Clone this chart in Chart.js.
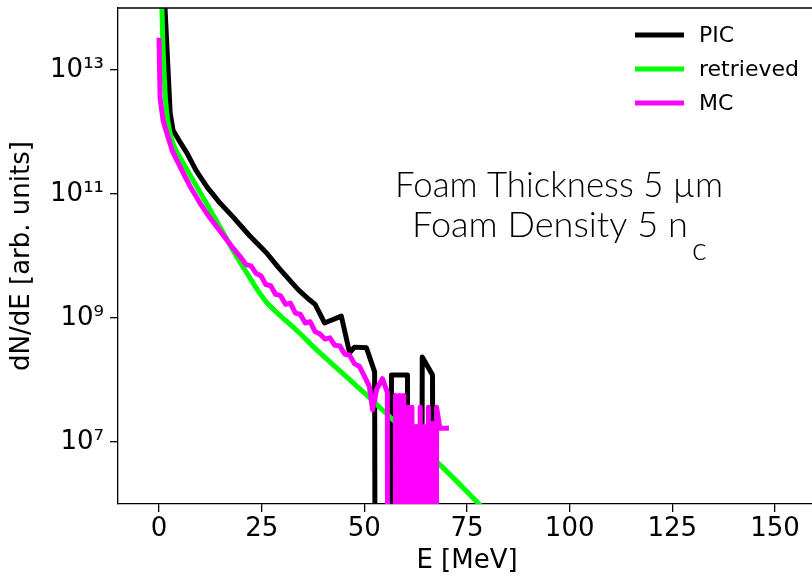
<!DOCTYPE html>
<html><head><meta charset="utf-8">
<script src="https://cdn.jsdelivr.net/npm/chart.js@4.4.1/dist/chart.umd.min.js"></script>
<style>
html,body{margin:0;padding:0;overflow:hidden;background:#fff;width:812px;height:577px}
canvas{display:block}
</style></head><body>
<canvas id="c" width="816" height="577"></canvas>
<script>
// ---- data ----
const xTicks = [0, 25, 50, 75, 100, 125, 150];
const yTicks = [1e7, 1e9, 1e11, 1e13];
const yTickLabels = ['10\u2077', '10\u2079', '10\u00b9\u00b9', '10\u00b9\u00b3'];

const seriesLabels = ['PIC', 'retrieved', 'MC'];

const picE = [1.0,2.7,3.4,5.0,6.8,9.0,11.7,14.5,18.0,22.0,26.2,29.0,31.8,34.0,36.7,38.0,39.1,40.3,44.4,46.4,47.6,50.5,52.5,53.7,55.4,56.6,60.5,61.7,62.9,64.1,66.6,67.8,70.0];
const picN = [3.98e14,2.04e12,1.07e12,7.08e11,4.57e11,2.40e11,1.29e11,7.59e10,4.27e10,2.14e10,1.12e10,6.61e9,4.07e9,2.82e9,1.95e9,1.66e9,1.20e9,8.32e8,1.07e9,2.75e8,3.39e8,3.31e8,1.35e8,0,0,1.20e8,1.20e8,0,0,2.34e8,1.20e8,0,0];

const retE = [0.5,0.9,1.2,1.6,2.2,3.0,4.0,5.5,7.0,9.0,11,13,16,19,22,24,26,28,31,34,38,42,46,50,55,60,65,70,75,80];
const retN = [3.16e14,3.16e13,1.0e13,3.16e12,1.41e12,7.94e11,5.25e11,3.47e11,2.34e11,1.38e11,8.13e10,4.79e10,2.14e10,9.55e9,4.57e9,2.82e9,1.86e9,1.35e9,8.91e8,5.89e8,3.24e8,1.86e8,1.07e8,6.17e7,3.02e7,1.48e7,7.08e6,3.39e6,1.58e6,7.24e5];

const mcE = [0.0,0.25,0.97,1.9,3.2,5.1,7.5,10.0,12.0,14.1,16.0,18.0,20.0,21.2,22.4,23.6,24.8,26.0,27.2,28.4,29.6,30.8,32.0,33.2,34.4,35.6,36.8,38.0,39.2,40.4,41.6,42.8,44.0,45.2,46.4,47.6,48.8,50.0,51.2,52.0,53.0,54.4,55.6,56.3,57.0,57.6,58.1,58.6,59.1,59.6,60.1,60.6,61.1,61.6,62.1,62.6,63.1,63.6,64.1,64.6,65.1,65.6,66.1,66.6,67.1,67.6,68.4,70.0];
const mcN = [3.02e13,3.55e12,1.55e12,9.55e11,5.01e11,2.75e11,1.35e11,7.08e10,4.47e10,2.95e10,2.0e10,1.35e10,9.33e9,7.24e9,6.92e9,5.25e9,4.79e9,3.47e9,3.31e9,2.40e9,2.29e9,1.66e9,1.74e9,1.20e9,1.15e9,8.32e8,8.71e8,6.03e8,5.50e8,4.57e8,4.79e8,3.63e8,3.55e8,2.63e8,2.51e8,1.82e8,1.66e8,1.15e8,7.94e7,3.31e7,7.08e7,1.05e8,6.31e7,0,0,5.62e7,0,5.62e7,0,5.62e7,0,3.63e7,0,3.63e7,0,1.78e7,0,3.63e7,0,1.78e7,0,3.63e7,0,2.0e7,0,3.63e7,1.66e7,1.66e7];

const noteLine1 = 'Foam Thickness 5 \u00b5m';
const noteLine2 = 'Foam Density 5 n';
const noteSub = 'c';

// zero counts are pushed far below the axis (as a log plot clips them)
const toPlot = v => (v === 0 ? 1e-30 : v);
const pts = (E, N) => E.map((e, i) => ({ x: e, y: toPlot(N[i]) }));

const colors = ['#000000', '#00ff00', '#ff00ff'];
const tickFont = { family: 'DejaVu Sans', size: 26 };

const framePlugin = {
  id: 'frame',
  afterDraw(chart) {
    const { ctx, chartArea: a } = chart;
    ctx.save();
    ctx.strokeStyle = '#000';
    ctx.lineWidth = 1.3;
    ctx.beginPath();
    ctx.moveTo(a.left, a.top);
    ctx.lineTo(a.right + 2, a.top);
    ctx.stroke();
    ctx.restore();
  }
};

const legendPlugin = {
  id: 'mplLegend',
  afterDraw(chart) {
    const ctx = chart.ctx;
    ctx.save();
    ctx.font = '22px "DejaVu Sans"';
    ctx.textBaseline = 'middle';
    ctx.textAlign = 'left';
    chart.data.datasets.forEach((ds, i) => {
      const y = 35 + i * 34;
      ctx.strokeStyle = ds.borderColor;
      ctx.lineWidth = 5;
      ctx.lineCap = 'butt';
      ctx.beginPath();
      ctx.moveTo(635, y);
      ctx.lineTo(684, y);
      ctx.stroke();
      ctx.fillStyle = '#000';
      ctx.fillText(ds.label, 699, y + 1);
    });
    ctx.restore();
  }
};

const notePlugin = {
  id: 'note',
  afterDraw(chart) {
    const ctx = chart.ctx;
    ctx.save();
    ctx.fillStyle = '#000';
    const weight = '300 ';
    const fam = 'px Lato';
    let size = 30;
    ctx.font = weight + size + fam;
    const w1 = ctx.measureText(noteLine1).width;
    const size1 = size * 328 / w1;
    ctx.font = weight + size1 + fam;
    ctx.textAlign = 'center';
    ctx.textBaseline = 'alphabetic';
    ctx.fillText(noteLine1, 559, 197);
    ctx.font = weight + size + fam;
    const w2 = ctx.measureText(noteLine2).width;
    const size2 = size * 276 / w2;
    ctx.textAlign = 'left';
    ctx.font = weight + size2 + fam;
    ctx.fillText(noteLine2, 412, 237);
    ctx.font = weight + (size1 * 0.9) + fam;
    ctx.fillText(noteSub, 692, 260);
    ctx.restore();
  }
};

const common = { pointRadius: 0, borderWidth: 5, clip: 0, borderJoinStyle: 'round', borderCapStyle: 'square', fill: false };

new Chart(document.getElementById('c').getContext('2d'), {
  type: 'line',
  data: {
    datasets: [
      Object.assign({ label: seriesLabels[0], data: pts(picE, picN), borderColor: colors[0], tension: 0, order: 3 }, common),
      Object.assign({ label: seriesLabels[1], data: pts(retE, retN), borderColor: colors[1], cubicInterpolationMode: 'monotone', order: 2 }, common),
      Object.assign({ label: seriesLabels[2], data: pts(mcE, mcN), borderColor: colors[2], tension: 0, order: 1 }, common)
    ]
  },
  options: {
    responsive: false,
    animation: false,
    devicePixelRatio: 1,
    layout: { padding: { top: 8, right: 0, bottom: 0, left: 0 } },
    plugins: { legend: { display: false }, tooltip: { enabled: false } },
    scales: {
      x: {
        type: 'linear', min: -10, max: 160,
        afterBuildTicks: s => { s.ticks = xTicks.map(v => ({ value: v })); },
        afterFit: s => { s.height = 73; s.paddingLeft = 0; s.paddingRight = 0; },
        ticks: { font: tickFont, color: '#000', padding: 2, maxRotation: 0, autoSkip: false, callback: v => String(v) },
        grid: { display: true, drawOnChartArea: false, drawTicks: true, tickLength: 8, color: '#000', lineWidth: 1.3 },
        border: { display: true, color: '#000', width: 1.3 },
        title: { display: true, text: 'E [MeV]', color: '#000', font: { family: 'DejaVu Sans', size: 26 }, padding: { top: 0, bottom: 0 } }
      },
      y: {
        type: 'logarithmic', min: 1e6, max: 1e14,
        afterBuildTicks: s => { s.ticks = yTicks.map(v => ({ value: v })); },
        afterFit: s => { s.width = 118; s.paddingTop = 0; s.paddingBottom = 0; },
        ticks: { font: tickFont, color: '#000', padding: 6, autoSkip: false,
          callback: v => { const i = yTicks.indexOf(v); return i >= 0 ? yTickLabels[i] : ''; } },
        grid: { display: true, drawOnChartArea: false, drawTicks: true, tickLength: 8, color: '#000', lineWidth: 1.3 },
        border: { display: true, color: '#000', width: 1.3 },
        title: { display: true, text: 'dN/dE [arb. units]', color: '#000', font: { family: 'DejaVu Sans', size: 26 }, padding: { top: 7, bottom: 0 } }
      }
    }
  },
  plugins: [framePlugin, legendPlugin, notePlugin]
});
</script>
</body></html>
